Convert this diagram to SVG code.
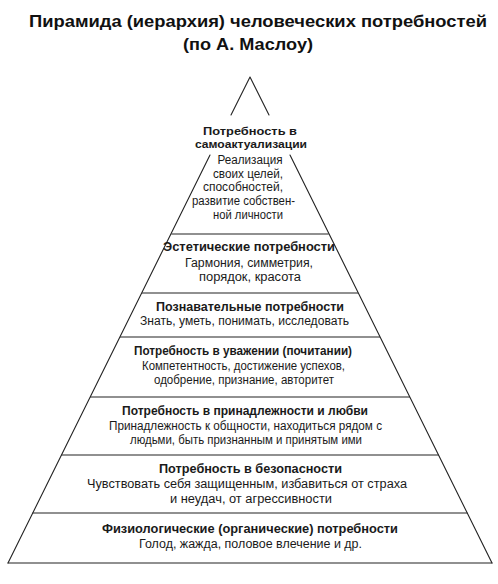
<svg xmlns="http://www.w3.org/2000/svg" width="498" height="584" viewBox="0 0 498 584">
<style>
.bg{fill:#ffffff}
.ln{stroke:#222;stroke-width:1.1;fill:none;stroke-linecap:round}
.t{font-family:"Liberation Sans",Arial,sans-serif;font-size:12px;fill:#1a1a1a;text-anchor:middle}
.b{font-weight:bold}
.s{font-size:11px}
.title{font-family:"Liberation Sans",Arial,sans-serif;font-size:17px;font-weight:bold;fill:#111;text-anchor:middle}
</style>
<rect class="bg" x="0" y="0" width="498" height="584"/>
<g id="title">
<text class="title" x="258" y="27" textLength="458" lengthAdjust="spacingAndGlyphs">Пирамида (иерархия) человеческих потребностей</text>
<text class="title" x="248" y="50" textLength="130" lengthAdjust="spacingAndGlyphs">(по А. Маслоу)</text>
</g>
<g id="outline">
<path class="ln" d="M250,77 L231,115 M210,155 L8,563 M250,77 L269,115 M290,155 L492,563"/>
<path class="ln" d="M171.8,234 H328.2 M142.4,293 H357.6 M120.5,337 H379.5 M90.6,397 H409.4 M61.8,455 H438.2 M32.9,513 H467.1 M8,563 H492"/>
</g>
<g id="tier7">
<text class="t b s" x="250" y="134.5" textLength="94" lengthAdjust="spacingAndGlyphs">Потребность в</text>
<text class="t b s" x="251" y="147.5" textLength="112" lengthAdjust="spacingAndGlyphs">самоактуализации</text>
<text class="t" x="250" y="164" textLength="65" lengthAdjust="spacingAndGlyphs">Реализация</text>
<text class="t" x="248" y="177.5" textLength="70" lengthAdjust="spacingAndGlyphs">своих целей,</text>
<text class="t" x="243" y="191" textLength="80" lengthAdjust="spacingAndGlyphs">способностей,</text>
<text class="t" x="243.5" y="205" textLength="103" lengthAdjust="spacingAndGlyphs">развитие собствен-</text>
<text class="t" x="248" y="219" textLength="70" lengthAdjust="spacingAndGlyphs">ной личности</text>
</g>
<g id="tier6">
<text class="t b" x="249" y="251" textLength="172" lengthAdjust="spacingAndGlyphs">Эстетические потребности</text>
<text class="t" x="249" y="267" textLength="128" lengthAdjust="spacingAndGlyphs">Гармония, симметрия,</text>
<text class="t" x="250" y="281" textLength="102" lengthAdjust="spacingAndGlyphs">порядок, красота</text>
</g>
<g id="tier5">
<text class="t b" x="250" y="311" textLength="188" lengthAdjust="spacingAndGlyphs">Познавательные потребности</text>
<text class="t" x="244.5" y="324.5" textLength="209" lengthAdjust="spacingAndGlyphs">Знать, уметь, понимать, исследовать</text>
</g>
<g id="tier4">
<text class="t b" x="243" y="355" textLength="218" lengthAdjust="spacingAndGlyphs">Потребность в уважении (почитании)</text>
<text class="t" x="243.5" y="369.5" textLength="203" lengthAdjust="spacingAndGlyphs">Компетентность, достижение успехов,</text>
<text class="t" x="244" y="384" textLength="180" lengthAdjust="spacingAndGlyphs">одобрение, признание, авторитет</text>
</g>
<g id="tier3">
<text class="t b" x="245" y="415" textLength="246" lengthAdjust="spacingAndGlyphs">Потребность в принадлежности и любви</text>
<text class="t" x="245.5" y="429.5" textLength="273" lengthAdjust="spacingAndGlyphs">Принадлежность к общности, находиться рядом с</text>
<text class="t" x="246" y="444" textLength="232" lengthAdjust="spacingAndGlyphs">людьми, быть признанным и принятым ими</text>
</g>
<g id="tier2">
<text class="t b" x="250.5" y="473" textLength="183" lengthAdjust="spacingAndGlyphs">Потребность в безопасности</text>
<text class="t" x="247" y="488" textLength="320" lengthAdjust="spacingAndGlyphs">Чувствовать себя защищенным, избавиться от страха</text>
<text class="t" x="251" y="502.5" textLength="162" lengthAdjust="spacingAndGlyphs">и неудач, от агрессивности</text>
</g>
<g id="tier1">
<text class="t b" x="250" y="533" textLength="296" lengthAdjust="spacingAndGlyphs">Физиологические (органические) потребности</text>
<text class="t" x="250.5" y="547.5" textLength="223" lengthAdjust="spacingAndGlyphs">Голод, жажда, половое влечение и др.</text>
</g>
</svg>
